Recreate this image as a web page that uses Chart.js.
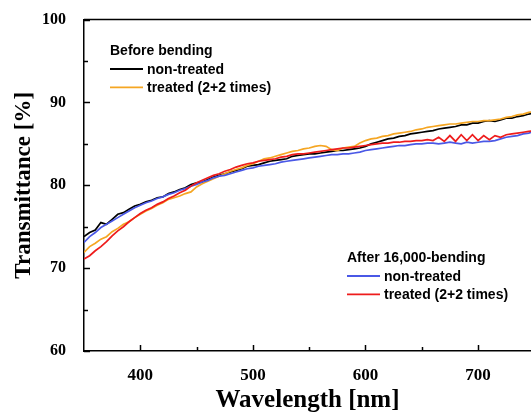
<!DOCTYPE html>
<html>
<head>
<meta charset="utf-8">
<script src="https://cdn.jsdelivr.net/npm/chart.js@4.4.0/dist/chart.umd.min.js"></script>
<style>
  html, body { margin: 0; padding: 0; background: #ffffff; }
  canvas { display: block; }
</style>
</head>
<body>
<canvas id="c" width="531" height="414"></canvas>
<script>
// ---- data (5 nm steps) ----
const wavelength = [350,355,360,365,370,375,380,385,390,395,400,405,410,415,420,425,430,435,440,445,450,455,460,465,470,475,480,485,490,495,500,505,510,515,520,525,530,535,540,545,550,555,560,565,570,575,580,585,590,595,600,605,610,615,620,625,630,635,640,645,650,655,660,665,670,675,680,685,690,695,700,705,710,715,720,725,730,735,740,745,750];
const nonTreatedBefore = [73.8,74.3,74.6,75.5,75.3,75.9,76.5,76.7,77.1,77.5,77.7,78.0,78.2,78.5,78.6,79.0,79.2,79.5,79.7,80.1,80.3,80.4,80.7,81.0,81.2,81.4,81.6,81.8,82.0,82.3,82.4,82.5,82.7,82.9,83.0,83.1,83.2,83.5,83.6,83.7,83.8,83.8,83.9,84.0,84.1,84.2,84.2,84.3,84.4,84.5,84.7,85.0,85.2,85.4,85.6,85.7,85.9,86.0,86.2,86.3,86.4,86.5,86.6,86.8,86.9,87.0,87.1,87.3,87.3,87.5,87.5,87.7,87.8,87.7,87.9,88.1,88.1,88.3,88.4,88.6,88.7];
const treatedBefore = [71.9,72.6,73.0,73.5,73.8,74.4,74.8,75.3,75.6,76.1,76.5,76.9,77.2,77.6,77.9,78.3,78.5,78.7,79.0,79.2,79.8,80.2,80.5,80.8,81.1,81.4,81.7,81.9,82.1,82.4,82.6,82.9,83.2,83.3,83.5,83.7,83.9,84.1,84.2,84.4,84.5,84.7,84.8,84.7,84.3,84.2,84.5,84.6,84.7,85.1,85.4,85.6,85.7,85.9,86.0,86.2,86.3,86.4,86.5,86.7,86.8,87.0,87.1,87.2,87.3,87.4,87.4,87.5,87.6,87.7,87.7,87.8,87.8,87.9,88.0,88.2,88.3,88.5,88.6,88.8,88.9];
const nonTreatedAfter = [73.1,73.8,74.3,74.9,75.3,75.7,76.1,76.5,76.9,77.3,77.6,77.9,78.1,78.4,78.6,78.9,79.1,79.4,79.6,79.9,80.1,80.4,80.6,80.9,81.1,81.2,81.4,81.6,81.8,82.0,82.1,82.3,82.4,82.5,82.6,82.8,82.9,83.0,83.1,83.2,83.3,83.4,83.5,83.6,83.7,83.7,83.8,83.8,83.9,84.0,84.2,84.3,84.4,84.5,84.6,84.7,84.8,84.8,84.9,85.0,85.0,85.1,85.1,85.0,85.1,85.2,85.1,85.0,85.2,85.1,85.2,85.3,85.3,85.4,85.6,85.8,85.9,86.0,86.2,86.3,86.5];
const treatedAfter = [71.1,71.5,72.1,72.6,73.2,73.9,74.5,75.0,75.6,76.1,76.6,77.0,77.3,77.7,78.0,78.4,78.7,79.1,79.4,79.9,80.3,80.6,80.9,81.2,81.4,81.7,81.9,82.2,82.4,82.6,82.7,82.9,83.0,83.1,83.2,83.4,83.5,83.7,83.8,83.8,83.9,84.0,84.1,84.2,84.3,84.4,84.5,84.5,84.6,84.7,84.8,84.9,85.0,85.1,85.1,85.2,85.2,85.3,85.3,85.4,85.4,85.5,85.4,85.8,85.3,86.0,85.3,86.1,85.4,86.1,85.4,86.0,85.5,86.0,85.8,86.1,86.2,86.3,86.4,86.5,86.6];

const xMajorTicks = [400, 500, 600, 700];
const xMinorTicks = [450, 550, 650];
const yMajorTicks = [60, 70, 80, 90, 100];
const yMinorTicks = [65, 75, 85, 95];

const legendGroups = [
  { title: 'Before bending', items: [0, 1] },
  { title: 'After 16,000-bending', items: [2, 3] }
];
const seriesLabels = ['non-treated', 'treated (2+2 times)', 'non-treated', 'treated (2+2 times)'];

// ---- build chart ----
function pts(ys) { return wavelength.map((x, i) => ({ x: x, y: ys[i] })); }

const COLORS = ['#000000', '#f5a623', '#4a58e6', '#ee1c1c'];

const tickPlugin = {
  id: 'innerTicks',
  afterDraw(chart) {
    const ctx = chart.ctx;
    const xs = chart.scales.x, ys = chart.scales.y;
    const a = chart.chartArea;
    ctx.save();
    ctx.strokeStyle = '#000';
    ctx.lineWidth = 1.5;
    ctx.beginPath();
    ctx.moveTo(a.left, a.top);
    ctx.lineTo(a.right, a.top);
    ctx.stroke();
    const drawX = (v, len) => {
      const px = Math.round(xs.getPixelForValue(v)) + 0.5;
      ctx.beginPath(); ctx.moveTo(px, a.bottom); ctx.lineTo(px, a.bottom - len); ctx.stroke();
    };
    const drawY = (v, len) => {
      const py = Math.round(ys.getPixelForValue(v)) + 0.5;
      ctx.beginPath(); ctx.moveTo(a.left, py); ctx.lineTo(a.left + len, py); ctx.stroke();
    };
    xMajorTicks.forEach(v => drawX(v, 6));
    xMinorTicks.forEach(v => drawX(v, 4));
    yMajorTicks.forEach(v => drawY(v, 6));
    yMinorTicks.forEach(v => drawY(v, 4));

    const positions = [
      { x: 110, y: 55 },
      { x: 347, y: 262 }
    ];
    ctx.font = 'bold 14px "Liberation Sans", Arial, sans-serif';
    ctx.fillStyle = '#000';
    ctx.textBaseline = 'alphabetic';
    ctx.textAlign = 'left';
    legendGroups.forEach((g, gi) => {
      const p = positions[gi];
      ctx.fillText(g.title, p.x, p.y);
      g.items.forEach((di, k) => {
        const ly = p.y + 14 + k * 18.3;
        const ds = chart.data.datasets[di];
        ctx.strokeStyle = ds.borderColor;
        ctx.lineWidth = 1.8;
        ctx.beginPath();
        ctx.moveTo(p.x, ly); ctx.lineTo(p.x + 33, ly); ctx.stroke();
        ctx.fillText(seriesLabels[di], p.x + 37, ly + 5);
      });
    });
    ctx.restore();
  }
};

new Chart(document.getElementById('c'), {
  type: 'line',
  data: {
    datasets: [
      { label: seriesLabels[0], data: pts(nonTreatedBefore), borderColor: COLORS[0], order: 3 },
      { label: seriesLabels[1], data: pts(treatedBefore), borderColor: COLORS[1], order: 2 },
      { label: seriesLabels[2], data: pts(nonTreatedAfter), borderColor: COLORS[2], order: 1 },
      { label: seriesLabels[3], data: pts(treatedAfter), borderColor: COLORS[3], order: 0 }
    ]
  },
  options: {
    responsive: false,
    animation: false,
    events: [],
    layout: { padding: { top: 18, right: 0, bottom: 0, left: 0 } },
    elements: {
      line: { borderWidth: 1.7, tension: 0, fill: false },
      point: { radius: 0 }
    },
    plugins: { legend: { display: false }, tooltip: { enabled: false } },
    scales: {
      x: {
        type: 'linear',
        min: 350,
        max: 747,
        grid: { display: false },
        border: { display: true, color: '#000', width: 1.5 },
        afterBuildTicks(scale) { scale.ticks = xMajorTicks.map(v => ({ value: v })); },
        afterFit(scale) { scale.height = 63; },
        ticks: {
          color: '#000',
          padding: 6,
          font: { family: '"Liberation Serif", "Times New Roman", serif', size: 17, weight: 'bold' }
        },
        title: {
          display: true,
          text: 'Wavelength [nm]',
          color: '#000',
          padding: { top: 0, bottom: 1 },
          font: { family: '"Liberation Serif", "Times New Roman", serif', size: 25, weight: 'bold', lineHeight: 1 }
        }
      },
      y: {
        min: 60,
        max: 100,
        grid: { display: false },
        border: { display: true, color: '#000', width: 1.5 },
        afterBuildTicks(scale) { scale.ticks = yMajorTicks.map(v => ({ value: v })); },
        afterFit(scale) { scale.width = 84; },
        ticks: {
          color: '#000',
          padding: 10,
          font: { family: '"Liberation Serif", "Times New Roman", serif', size: 16, weight: 'bold' }
        },
        title: {
          display: true,
          text: 'Transmittance [%]',
          color: '#000',
          padding: { top: 12.5, bottom: 0 },
          font: { family: '"Liberation Serif", "Times New Roman", serif', size: 23, weight: 'bold', lineHeight: 1 }
        }
      }
    }
  },
  plugins: [tickPlugin]
});
</script>
</body>
</html>
